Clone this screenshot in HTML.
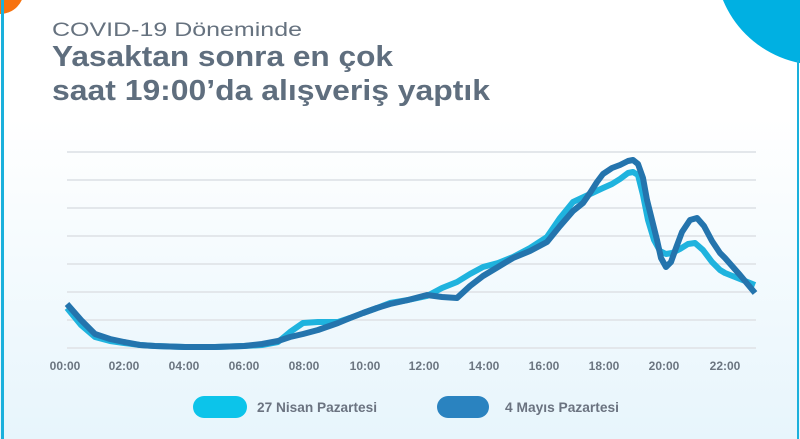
<!DOCTYPE html>
<html><head><meta charset="utf-8"><style>
html,body{margin:0;padding:0;width:800px;height:439px;overflow:hidden;background:#fff}
svg{display:block}
</style></head><body>
<svg width="800" height="439" viewBox="0 0 800 439" xmlns="http://www.w3.org/2000/svg">
<defs>
<linearGradient id="bg" x1="0" y1="0" x2="0" y2="439" gradientUnits="userSpaceOnUse">
<stop offset="0" stop-color="#ffffff"/>
<stop offset="0.27" stop-color="#ffffff"/>
<stop offset="1" stop-color="#e7f5fc"/>
</linearGradient>
</defs>
<rect x="0" y="0" width="800" height="439" fill="url(#bg)"/>
<circle cx="0" cy="-10" r="24" fill="#f7720f"/>
<circle cx="820" cy="-40" r="105" fill="#00b0e2"/>
<rect x="1" y="0" width="3" height="439" fill="#1ab0dc"/>
<rect x="797" y="60" width="2" height="379" fill="#1ab0dc"/>

<g font-family="Liberation Sans, sans-serif" fill="#5f6e7e">
<text x="52" y="36" font-size="19" fill="#66727f" textLength="250" lengthAdjust="spacingAndGlyphs">COVID-19 Döneminde</text>
<text x="52" y="66" font-size="29" font-weight="bold" textLength="341" lengthAdjust="spacingAndGlyphs">Yasaktan sonra en çok</text>
<text x="52" y="100" font-size="29" font-weight="bold" textLength="438" lengthAdjust="spacingAndGlyphs">saat 19:00’da alışveriş yaptık</text>
</g>

<g stroke="#e3e7eb" stroke-width="2">
<line x1="67" y1="152" x2="756" y2="152"/>
<line x1="67" y1="180" x2="756" y2="180"/>
<line x1="67" y1="208" x2="756" y2="208"/>
<line x1="67" y1="236" x2="756" y2="236"/>
<line x1="67" y1="264" x2="756" y2="264"/>
<line x1="67" y1="292" x2="756" y2="292"/>
<line x1="67" y1="320" x2="756" y2="320"/>
<line x1="67" y1="348" x2="756" y2="348"/>
</g>

<g font-family="Liberation Sans, sans-serif" font-size="12" font-weight="bold" fill="#6b7580" text-anchor="middle">
<text x="65" y="370">00:00</text>
<text x="124" y="370">02:00</text>
<text x="184" y="370">04:00</text>
<text x="244" y="370">06:00</text>
<text x="304" y="370">08:00</text>
<text x="365" y="370">10:00</text>
<text x="424" y="370">12:00</text>
<text x="484" y="370">14:00</text>
<text x="544" y="370">16:00</text>
<text x="604" y="370">18:00</text>
<text x="664" y="370">20:00</text>
<text x="725" y="370">22:00</text>
</g>

<polyline fill="none" stroke="#1fb3de" stroke-width="6" stroke-linejoin="round" points="67,308 81,325 95,337 110,341 124,343 140,345 155,346 185,347 215,347 244,346 262,345 278,342 290,332 303,323 318,322 338,322 350,318 363,313 377,308 390,303 408,300 427,296 442,288 457,282 470,274 483,267 498,263 513,257 530,248 547,237 560,218 573,202 588,195 603,188 612,184 620,179 628,173 633,172 638,175 643,195 648,220 654,240 660,251 666,254 672,253 680,249 688,244 695,243 703,250 712,262 720,270 725,273 740,279 755,285"/>
<polyline fill="none" stroke="#2474ad" stroke-width="6" stroke-linejoin="round" points="67,304 81,320 95,334 110,339 124,342 140,345 155,346 185,347 215,347 244,346 262,344 278,341 290,337 303,334 318,330 338,323 350,318 363,313 377,308 390,304 408,300 427,295 442,297 457,298 470,286 483,276 498,267 513,258 530,251 547,242 560,226 573,211 583,203 590,193 597,182 603,174 612,168 620,165 628,161 633,160 638,164 643,178 647,200 652,220 657,240 661,258 666,267 671,262 676,248 682,232 690,220 697,218 704,226 712,241 720,253 725,258 740,275 755,293"/>

<rect x="193" y="396" width="54" height="22" rx="11" fill="#0cc4ea"/>
<rect x="437" y="396" width="52" height="22" rx="11" fill="#2a83c0"/>
<g font-family="Liberation Sans, sans-serif" font-size="14" font-weight="bold" fill="#6b7380">
<text x="257" y="412" textLength="120" lengthAdjust="spacingAndGlyphs">27 Nisan Pazartesi</text>
<text x="505" y="412" textLength="114" lengthAdjust="spacingAndGlyphs">4 Mayıs Pazartesi</text>
</g>
</svg>
</body></html>
